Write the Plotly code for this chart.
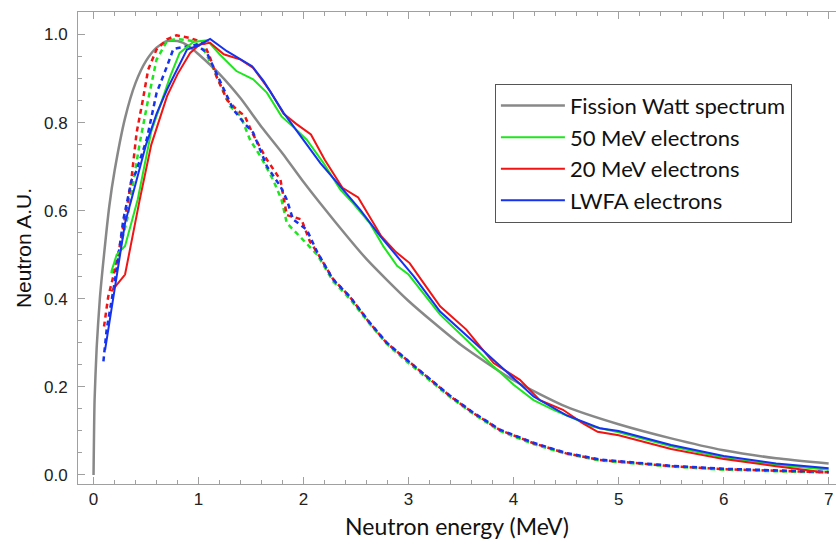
import plotly.graph_objects as go

# Fission (Watt) reference spectrum, normalised
watt_e = [0, 0.01, 0.03, 0.06, 0.1, 0.15, 0.2, 0.3, 0.4, 0.5, 0.6, 0.7, 0.8, 0.9, 1.0,
          1.2, 1.4, 1.6, 1.8, 2.0, 2.3, 2.6, 3.0, 3.5, 4.0, 4.5, 5.0, 5.5, 6.0, 6.5, 7.0]
watt_v = [0, 0.17, 0.29, 0.40, 0.50, 0.61, 0.69, 0.81, 0.89, 0.94, 0.97, 0.985, 0.985, 0.975, 0.955,
          0.91, 0.855, 0.79, 0.73, 0.665, 0.575, 0.49, 0.395, 0.295, 0.215, 0.155, 0.115, 0.083, 0.056, 0.038, 0.026]

# Simulated neutron spectra (solid)
e50_e = [0.17, 0.22, 0.3, 0.42, 0.55, 0.65, 0.73, 0.82, 0.95, 1.08, 1.2, 1.36, 1.52, 1.65, 1.79,
         1.93, 2.03, 2.19, 2.35, 2.47, 2.63, 2.76, 2.89, 3.0, 3.15, 3.3, 3.55, 3.81, 4.0, 4.19,
         4.38, 4.5, 4.75, 5.0, 5.5, 6.0, 6.5, 7.0]
e50_v = [0.462, 0.50, 0.52, 0.625, 0.78, 0.85, 0.905, 0.958, 0.983, 0.987, 0.955, 0.917, 0.898, 0.868, 0.814,
         0.784, 0.761, 0.708, 0.648, 0.617, 0.572, 0.519, 0.475, 0.455, 0.41, 0.364, 0.307, 0.246, 0.205, 0.17,
         0.148, 0.136, 0.11, 0.097, 0.065, 0.039, 0.023, 0.012]

e20_e = [0.17, 0.3, 0.44, 0.55, 0.7, 0.8, 0.92, 1.01, 1.11, 1.24, 1.4, 1.52, 1.68, 1.81, 1.93,
         2.07, 2.2, 2.37, 2.52, 2.59, 2.74, 2.88, 3.01, 3.13, 3.3, 3.55, 3.81, 4.06, 4.25, 4.47,
         4.66, 4.8, 5.0, 5.5, 6.0, 6.5, 6.95]
e20_v = [0.417, 0.455, 0.625, 0.75, 0.86, 0.91, 0.958, 0.977, 0.981, 0.955, 0.943, 0.924, 0.872, 0.82, 0.797,
         0.773, 0.716, 0.652, 0.63, 0.602, 0.542, 0.506, 0.481, 0.44, 0.383, 0.33, 0.254, 0.216, 0.17, 0.148,
         0.117, 0.098, 0.09, 0.059, 0.036, 0.02, 0.006]

lwfa_e = [0.11, 0.2, 0.3, 0.36, 0.5, 0.6, 0.7, 0.89, 1.0, 1.11, 1.27, 1.51, 1.62, 1.81, 1.97,
          2.16, 2.35, 2.54, 2.73, 2.89, 3.05, 3.3, 3.55, 3.81, 4.19, 4.5, 4.82, 5.0, 5.5, 6.0, 6.5, 7.0]
lwfa_v = [0.284, 0.42, 0.572, 0.625, 0.75, 0.82, 0.875, 0.966, 0.975, 0.99, 0.962, 0.928, 0.894, 0.822, 0.769,
          0.708, 0.655, 0.602, 0.542, 0.496, 0.451, 0.371, 0.318, 0.261, 0.178, 0.136, 0.106, 0.1, 0.068, 0.043, 0.026, 0.015]

# Companion spectra (dashed)
d50_e = [0.17, 0.24, 0.32, 0.38, 0.44, 0.52, 0.6, 0.7, 0.79, 0.95, 1.05, 1.13, 1.2, 1.3, 1.4,
         1.49, 1.59, 1.71, 1.79, 1.84, 1.97, 2.13, 2.28, 2.44, 2.63, 2.79, 2.98, 3.17, 3.4, 3.62,
         3.87, 4.19, 4.5, 4.82, 5.0, 5.5, 6.0, 6.5, 7.0]
d50_v = [0.458, 0.504, 0.58, 0.67, 0.754, 0.852, 0.943, 0.985, 0.99, 0.985, 0.966, 0.928, 0.89, 0.837, 0.815,
         0.761, 0.723, 0.67, 0.625, 0.572, 0.54, 0.50, 0.44, 0.40, 0.343, 0.298, 0.258, 0.221, 0.176, 0.138,
         0.10, 0.07, 0.048, 0.033, 0.029, 0.019, 0.012, 0.008, 0.005]

d20_e = [0.1, 0.14, 0.22, 0.28, 0.33, 0.36, 0.41, 0.47, 0.52, 0.6, 0.7, 0.79, 0.92, 1.05, 1.11,
         1.17, 1.27, 1.36, 1.44, 1.51, 1.65, 1.78, 1.84, 1.98, 2.06, 2.13, 2.28, 2.44, 2.63, 2.79,
         2.98, 3.17, 3.4, 3.62, 3.87, 4.19, 4.5, 4.82, 5.0, 5.5, 6.0, 6.5, 7.0]
d20_v = [0.337, 0.405, 0.481, 0.557, 0.625, 0.67, 0.777, 0.852, 0.92, 0.966, 0.989, 0.998, 0.992, 0.981, 0.947,
         0.905, 0.852, 0.83, 0.815, 0.777, 0.716, 0.67, 0.59, 0.58, 0.53, 0.505, 0.445, 0.405, 0.345, 0.30,
         0.262, 0.223, 0.178, 0.14, 0.102, 0.072, 0.049, 0.034, 0.03, 0.02, 0.013, 0.009, 0.006]

dlw_e = [0.094, 0.125, 0.205, 0.284, 0.363, 0.4, 0.506, 0.6, 0.7, 0.76, 0.89, 0.98, 1.08, 1.14, 1.24,
         1.33, 1.43, 1.52, 1.65, 1.78, 1.84, 1.9, 2.03, 2.13, 2.28, 2.44, 2.63, 2.79, 2.98, 3.17,
         3.4, 3.62, 3.87, 4.19, 4.5, 4.82, 5.0, 5.5, 6.0, 6.5, 7.0]
dlw_v = [0.258, 0.33, 0.443, 0.58, 0.67, 0.685, 0.761, 0.867, 0.928, 0.967, 0.973, 0.977, 0.958, 0.928, 0.875,
         0.83, 0.8, 0.777, 0.701, 0.655, 0.625, 0.58, 0.557, 0.506, 0.444, 0.405, 0.346, 0.301, 0.262, 0.224,
         0.179, 0.141, 0.103, 0.073, 0.05, 0.035, 0.031, 0.021, 0.014, 0.01, 0.007]

GRAY = "#888888"
GREEN = "#1ee61e"
RED = "#f01414"
BLUE = "#1432f0"

fig = go.Figure()

fig.add_trace(go.Scatter(x=watt_e, y=watt_v, mode="lines", name="Fission Watt spectrum",
                         line=dict(color=GRAY, width=2.5, shape="spline", smoothing=0.6),
                         legendgroup="a"))

for xs, ys, col in [(d50_e, d50_v, GREEN), (d20_e, d20_v, RED), (dlw_e, dlw_v, BLUE)]:
    fig.add_trace(go.Scatter(x=xs, y=ys, mode="lines", showlegend=False,
                             line=dict(color=col, width=2.5, dash="5px,4px")))

for xs, ys, col, nm, grp in [(e50_e, e50_v, GREEN, "50 MeV electrons", "b"),
                             (e20_e, e20_v, RED, "20 MeV electrons", "c"),
                             (lwfa_e, lwfa_v, BLUE, "LWFA electrons", "d")]:
    fig.add_trace(go.Scatter(x=xs, y=ys, mode="lines", name=nm, legendgroup=grp,
                             line=dict(color=col, width=2)))

axis_common = dict(
    showline=True, linecolor="#a0a0a0", linewidth=1,
    ticks="inside", ticklen=7, tickcolor="#a0a0a0", tickwidth=1,
    showgrid=False, zeroline=False,
    tickfont=dict(family="Liberation Sans, Arial", size=17, color="#222"),
)

fig.update_xaxes(
    range=[-0.148, 7.07], tickvals=[0, 1, 2, 3, 4, 5, 6, 7], mirror="ticks",
    minor=dict(ticks="inside", ticklen=4, tickcolor="#a0a0a0", dtick=0.2, tick0=0),
    title=dict(text="Neutron energy (MeV)", font=dict(family="Lato", size=23, color="#111"), standoff=10),
    **axis_common,
)
fig.update_yaxes(
    range=[-0.0205, 1.051], tickvals=[0, 0.2, 0.4, 0.6, 0.8, 1.0], tickformat=".1f",
    minor=dict(ticks="inside", ticklen=4, tickcolor="#a0a0a0", dtick=0.05, tick0=0),
    title=dict(text="Neutron A.U.", font=dict(family="Liberation Sans, Arial", size=21, color="#111"), standoff=6),
    ticklabelstandoff=6,
    **axis_common,
)

fig.update_layout(
    width=836, height=548,
    margin=dict(l=78, r=0, t=12, b=64),
    plot_bgcolor="white", paper_bgcolor="white",
    legend=dict(x=0.55, y=0.848, xanchor="left", yanchor="top",
                bordercolor="#555555", borderwidth=1, bgcolor="white",
                font=dict(family="Lato", size=22, color="#111"),
                tracegroupgap=0, traceorder="grouped", itemwidth=64),
)

fig.write_html("out.html")
